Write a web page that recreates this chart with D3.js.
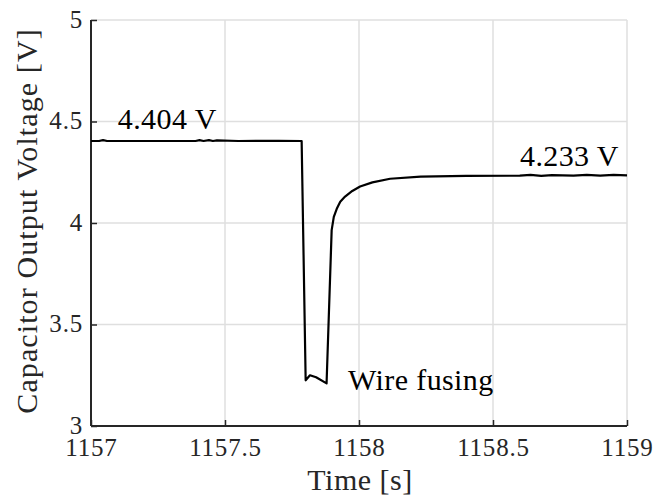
<!DOCTYPE html>
<html>
<head>
<meta charset="utf-8">
<script src="https://cdn.jsdelivr.net/npm/d3@7"></script>
<style>
  body { margin: 0; background: #fff; }
</style>
</head>
<body>
<div id="chart"></div>
<script>
// data
var times = [1157.000, 1157.030, 1157.045, 1157.060, 1157.200, 1157.390, 1157.405, 1157.420, 1157.440, 1157.455,
             1157.470, 1157.550, 1157.700, 1157.786,
             1157.801, 1157.817, 1157.840, 1157.879, 1157.898, 1157.906, 1157.917, 1157.930, 1157.948, 1157.975,
             1158.004, 1158.050, 1158.116, 1158.230, 1158.400, 1158.600, 1158.640, 1158.680, 1158.720, 1158.800,
             1158.850, 1158.900, 1158.950, 1159.000];
var volts = [4.404, 4.404, 4.408, 4.404, 4.404, 4.404, 4.408, 4.404, 4.408, 4.404,
             4.407, 4.404, 4.405, 4.404,
             3.225, 3.250, 3.240, 3.210, 3.965, 4.030, 4.070, 4.105, 4.130, 4.158,
             4.180, 4.200, 4.218, 4.228, 4.232, 4.233, 4.237, 4.232, 4.236, 4.233,
             4.237, 4.233, 4.237, 4.235];
var xTicks = [1157, 1157.5, 1158, 1158.5, 1159];
var yTicks = [3, 3.5, 4, 4.5, 5];
var notes = [
  { t: 1157.10, v: 4.404, label: "4.404 V", dy: -12, anchor: "start" },
  { t: 1158.970, v: 4.233, label: "4.233 V", dy: -10, anchor: "end" },
  { t: 1157.959, v: 3.177, label: "Wire fusing", dy: 0, anchor: "start" }
];

var serif = "Liberation Serif";

var margin = { left: 91, right: 27, top: 20, bottom: 78 };
var width = 654 - margin.left - margin.right,
    height = 504 - margin.top - margin.bottom;

var svg = d3.select("#chart").append("svg")
    .attr("width", 654)
    .attr("height", 504);
var g = svg.append("g")
    .attr("transform", "translate(" + margin.left + "," + margin.top + ")");

var x = d3.scaleLinear().domain([1157, 1159]).range([0, width]);
var y = d3.scaleLinear().domain([3, 5]).range([height, 0]);

// grid
g.append("g").selectAll("line")
    .data(xTicks).enter().append("line")
    .attr("x1", function(d) { return x(d); })
    .attr("x2", function(d) { return x(d); })
    .attr("y1", 0).attr("y2", height)
    .attr("stroke", "#dfdfdf").attr("stroke-width", 1.5);
g.append("g").selectAll("line")
    .data(yTicks).enter().append("line")
    .attr("y1", function(d) { return y(d); })
    .attr("y2", function(d) { return y(d); })
    .attr("x1", 0).attr("x2", width)
    .attr("stroke", "#dfdfdf").attr("stroke-width", 1.5);

// axes
var xAxis = g.append("g")
    .attr("transform", "translate(0," + height + ")")
    .call(d3.axisBottom(x).tickValues(xTicks).tickSize(-6).tickPadding(12).tickFormat(d3.format("")));
var yAxis = g.append("g")
    .call(d3.axisLeft(y).tickValues(yTicks).tickSize(-6).tickPadding(8).tickFormat(d3.format("")));
[xAxis, yAxis].forEach(function(a) {
  a.attr("font-family", serif).attr("font-size", 25);
  a.select(".domain").attr("stroke", "#262626").attr("stroke-width", 2);
  a.selectAll(".tick line").attr("stroke", "#262626").attr("stroke-width", 1.5);
  a.selectAll(".tick text").attr("font-family", serif).attr("font-size", 25)
    .attr("letter-spacing", 0.8).attr("fill", "#262626");
});
yAxis.selectAll(".tick text").attr("dy", "0.28em");
xAxis.select(".domain").attr("d", "M0,0H" + width);
yAxis.select(".domain").attr("d", "M0," + height + "V0");

// line
var line = d3.line()
    .x(function(d, i) { return x(times[i]); })
    .y(function(d) { return y(d); });
g.append("path")
    .datum(volts)
    .attr("fill", "none")
    .attr("stroke", "#000")
    .attr("stroke-width", 2.2)
    .attr("stroke-linejoin", "round")
    .attr("d", line);

// annotations
g.selectAll(".note")
    .data(notes).enter().append("text")
    .attr("class", "note")
    .attr("x", function(d) { return x(d.t); })
    .attr("y", function(d) { return y(d.v) + d.dy; })
    .attr("text-anchor", function(d) { return d.anchor; })
    .attr("font-family", serif)
    .attr("font-size", 30)
    .attr("letter-spacing", 0.4)
    .attr("fill", "#000")
    .text(function(d) { return d.label; });

// axis labels
svg.append("text")
    .attr("x", 360)
    .attr("y", 490)
    .attr("text-anchor", "middle")
    .attr("font-family", serif)
    .attr("font-size", 30)
    .attr("letter-spacing", 0.5)
    .attr("fill", "#262626")
    .text("Time [s]");
svg.append("text")
    .attr("transform", "translate(37,221) rotate(-90)")
    .attr("text-anchor", "middle")
    .attr("font-family", serif)
    .attr("font-size", 30)
    .attr("letter-spacing", 1.1)
    .attr("fill", "#262626")
    .text("Capacitor Output Voltage [V]");
</script>
</body>
</html>
